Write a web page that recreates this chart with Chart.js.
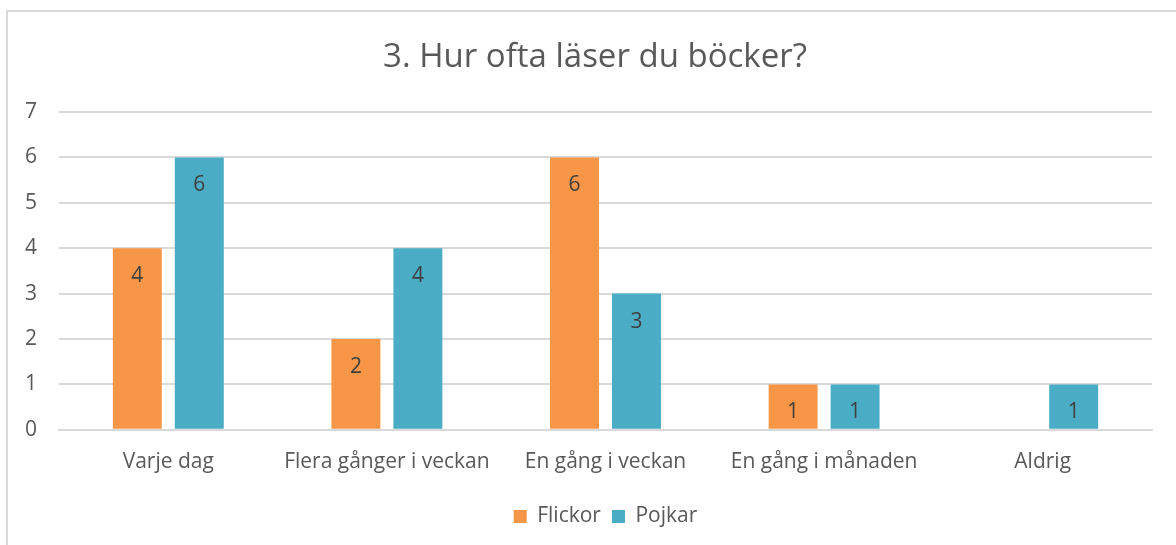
<!DOCTYPE html>
<html lang="sv">
<head>
    <meta charset="UTF-8">
    <title>3. Hur ofta läser du böcker?</title>
    <style>
        body {
            margin: 0;
            background: #ffffff;
            overflow: hidden;
        }
        #frame {
            position: absolute;
            left: 6px;
            top: 10px;
            width: 1200px;
            height: 600px;
            border: 2px solid #d9d9d9;
        }
        #chart-container {
            position: absolute;
            left: 0;
            top: 0;
            width: 1176px;
            height: 545px;
        }
    </style>
    <script src="https://cdn.jsdelivr.net/npm/chart.js"></script>
</head>
<body>
    <div id="frame"></div>
    <div id="chart-container">
        <canvas id="bookChart" width="1176" height="545"></canvas>
    </div>

    <script>
        var chartTitle = "3. Hur ofta läser du böcker?";
        var categories = ["Varje dag", "Flera gånger i veckan", "En gång i veckan", "En gång i månaden", "Aldrig"];
        var flickor = [4, 2, 6, 1, 0];
        var pojkar = [6, 4, 3, 1, 1];
        var yTicks = [0, 1, 2, 3, 4, 5, 6, 7];

        var textColor = "#595959";
        var gridColor = "#d9d9d9";
        var fontFamily = "'Open Sans'";

        // rubriken ligger lite till höger om mitten, som i originalet
        var titleText = {
            id: "titleText",
            afterDraw: function (chart) {
                var ctx = chart.ctx;
                ctx.save();
                ctx.font = "33px " + fontFamily;
                ctx.fillStyle = textColor;
                ctx.textAlign = "center";
                ctx.textBaseline = "alphabetic";
                ctx.fillText(chartTitle, 595, 67);
                ctx.restore();
            }
        };

        // skriv värdet inne i stapeln, strax under toppen
        var valueLabels = {
            id: "valueLabels",
            afterDatasetsDraw: function (chart) {
                var ctx = chart.ctx;
                ctx.save();
                ctx.font = "21px " + fontFamily;
                ctx.fillStyle = "#404040";
                ctx.textAlign = "center";
                ctx.textBaseline = "middle";
                chart.data.datasets.forEach(function (ds, i) {
                    var meta = chart.getDatasetMeta(i);
                    meta.data.forEach(function (bar, j) {
                        var v = ds.data[j];
                        if (!v) return;
                        ctx.fillText(v, bar.x, bar.y + 28);
                    });
                });
                ctx.restore();
            }
        };

        var ctx = document.getElementById("bookChart").getContext("2d");
        new Chart(ctx, {
            type: "bar",
            data: {
                labels: categories,
                datasets: [{
                    label: "Flickor",
                    data: flickor,
                    backgroundColor: "#f79646",
                    borderWidth: 0,
                    categoryPercentage: 0.567,
                    barPercentage: 0.79
                }, {
                    label: "Pojkar",
                    data: pojkar,
                    backgroundColor: "#4bacc6",
                    borderWidth: 0,
                    categoryPercentage: 0.567,
                    barPercentage: 0.79
                }]
            },
            options: {
                responsive: false,
                animation: false,
                layout: {
                    padding: { left: 0, right: 24, top: 112, bottom: 8 }
                },
                plugins: {
                    title: { display: false },
                    legend: {
                        position: "bottom",
                        fullSize: false,
                        labels: {
                            color: textColor,
                            font: { family: fontFamily, size: 21 },
                            boxWidth: 13,
                            boxHeight: 13,
                            padding: 11
                        }
                    },
                    tooltip: { enabled: false }
                },
                scales: {
                    x: {
                        grid: { display: false, drawTicks: false },
                        border: { color: gridColor, width: 2 },
                        ticks: {
                            color: textColor,
                            font: { family: fontFamily, size: 21 },
                            padding: 20,
                            maxRotation: 0
                        }
                    },
                    y: {
                        min: 0,
                        max: 7,
                        afterFit: function (scale) { scale.width = 59; },
                        afterBuildTicks: function (scale) {
                            scale.ticks = yTicks.map(function (v) { return { value: v }; });
                        },
                        grid: { color: gridColor, lineWidth: 2, drawTicks: false },
                        border: { display: false },
                        ticks: {
                            color: textColor,
                            font: { family: fontFamily, size: 21 },
                            padding: 22
                        }
                    }
                }
            },
            plugins: [valueLabels, titleText]
        });
    </script>
</body>
</html>
